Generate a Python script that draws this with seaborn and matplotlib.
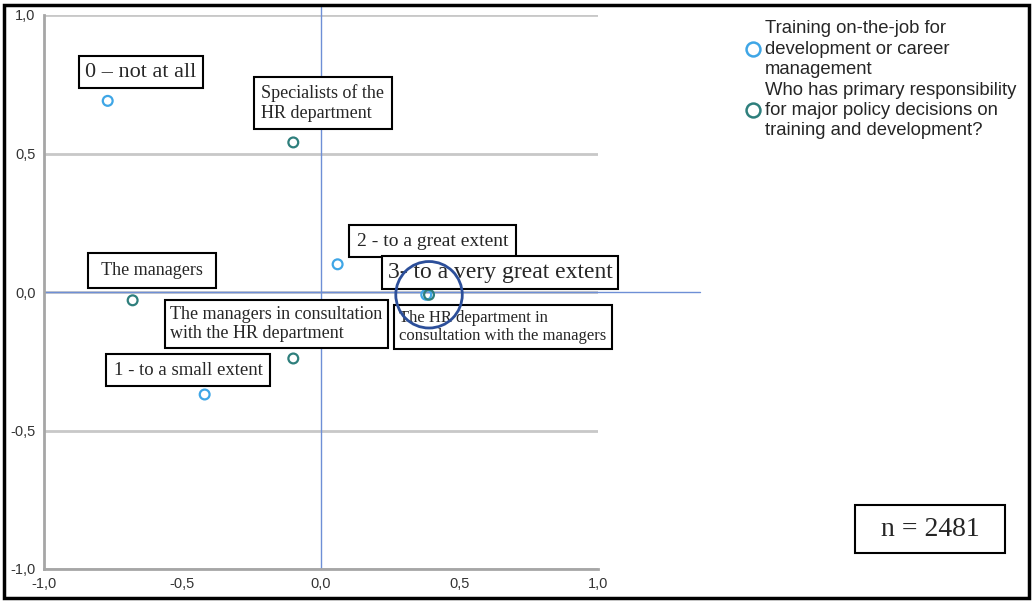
import matplotlib
matplotlib.use("Agg")
import matplotlib.pyplot as plt
import seaborn as sns
import pandas as pd
from matplotlib.lines import Line2D
from matplotlib.patches import Circle, Rectangle
from matplotlib.ticker import FuncFormatter

# Category points (two series)
training_labels = ["0 – not at all", "1 - to a small extent",
                   "2 - to a great extent", "3- to a very great extent"]
training_x = [-0.77, -0.42, 0.06, 0.38]
training_y = [0.69, -0.37, 0.10, -0.01]

resp_labels = ["Specialists of the\nHR department", "The managers",
               "The managers in consultation\nwith the HR department",
               "The HR department in\nconsultation with the managers"]
resp_x = [-0.10, -0.68, -0.10, 0.39]
resp_y = [0.54, -0.03, -0.24, -0.01]

series_names = ["Training on-the-job for\ndevelopment or career\nmanagement",
                "Who has primary responsibility\nfor major policy decisions on\ntraining and development?"]
n_total = 2481

df = pd.DataFrame({
    "label": training_labels + resp_labels,
    "x": training_x + resp_x,
    "y": training_y + resp_y,
    "series": [series_names[0]] * 4 + [series_names[1]] * 4,
})

colors = {series_names[0]: "#3FA6E6", series_names[1]: "#2E7F7C"}

# label box offsets from point (data units), font size, box pad, side spaces
label_style = {
    "0 – not at all": (0.12, 0.104, 16, 0.3, ""),
    "1 - to a small extent": (-0.06, 0.088, 13.5, 0.4, ""),
    "2 - to a great extent": (0.344, 0.084, 14, 0.4, ""),
    "3- to a very great extent": (0.266, 0.079, 17, 0.25, ""),
    "Specialists of the\nHR department": (0.107, 0.142, 13, 0.4, ""),
    "The managers": (0.07, 0.106, 13, 0.5, " "),
    "The managers in consultation\nwith the HR department": (-0.062, 0.124, 13, 0.3, ""),
    "The HR department in\nconsultation with the managers": (0.267, -0.116, 12, 0.3, ""),
}

sns.set_style("white")
plt.rcParams["font.family"] = ["Liberation Sans", "DejaVu Sans"]

fig = plt.figure(figsize=(10.33, 6.03), dpi=100)
ax = fig.add_axes([44 / 1033, 34 / 603, 554 / 1033, 554 / 603])

for name in series_names:
    sub = df[df["series"] == name]
    sns.scatterplot(data=sub, x="x", y="y", ax=ax, s=50, linewidth=1.6,
                    legend=False, zorder=4)
for coll, name in zip(ax.collections, series_names):
    coll.set_facecolor("none")
    coll.set_edgecolor(colors[name])

ax.set_xlim(-1, 1)
ax.set_ylim(-1, 1)
ax.set_xticks([-1, -0.5, 0, 0.5, 1])
ax.set_yticks([-1, -0.5, 0, 0.5, 1])
fmt = FuncFormatter(lambda v, p: f"{v:.1f}".replace(".", ","))
ax.xaxis.set_major_formatter(fmt)
ax.yaxis.set_major_formatter(fmt)
ax.tick_params(length=0, labelsize=10.5, labelcolor="#333333", pad=6)
ax.set_xlabel("")
ax.set_ylabel("")
ax.grid(axis="y", color="#c8c8c8", lw=2)
ax.grid(axis="x", visible=False)
for side in ["top", "right"]:
    ax.spines[side].set_visible(False)
for side in ["left", "bottom"]:
    ax.spines[side].set_color("#a6a6a6")
    ax.spines[side].set_linewidth(2)

# reference lines through origin
ax.axhline(0, xmin=0, xmax=(700 - 44) / 554, color="#6E8FD6", lw=1, clip_on=False, zorder=2)
ax.axvline(0, ymin=0, ymax=1.015, color="#6E8FD6", lw=1, clip_on=False, zorder=2)

# label boxes
for _, row in df.iterrows():
    dx, dy, fs, pad, sp = label_style[row["label"]]
    ax.text(row["x"] + dx, row["y"] + dy, sp + row["label"] + sp, ha="center", va="center",
            ma="left", fontsize=fs, family=["Liberation Serif"], zorder=5,
            bbox=dict(boxstyle=f"square,pad={pad}", fc="white", ec="black", lw=1.5))

# highlight circle
ax.add_patch(Circle((training_x[3] + 0.01, training_y[3]), 0.12, fill=False,
                    ec="#2C4F9A", lw=2, zorder=6, clip_on=False))

# legend
handles = [Line2D([], [], marker="o", ls="none", markersize=10, mfc="none",
                  mec=colors[n], mew=1.8) for n in series_names]
leg = fig.legend(handles, series_names, loc="upper left", bbox_to_anchor=(735 / 1033, 1 - 13 / 603),
                 frameon=False, fontsize=13.3, handletextpad=0.1, labelspacing=0.2,
                 borderaxespad=0, handlelength=1.1)
for t in leg.get_texts():
    t.set_linespacing(1.25)

fig.text(930 / 1033, 1 - 529 / 603, f"  n = {n_total}  ", ha="center", va="center",
         fontsize=20, family=["Liberation Serif"],
         bbox=dict(boxstyle="square,pad=0.42", fc="white", ec="black", lw=1.5))

# outer frame
fig.add_artist(Rectangle((4 / 1033, 5 / 603), 1025 / 1033, 593 / 603, transform=fig.transFigure,
                         fill=False, ec="black", lw=2.5))

fig.savefig("out.png", dpi=100)
